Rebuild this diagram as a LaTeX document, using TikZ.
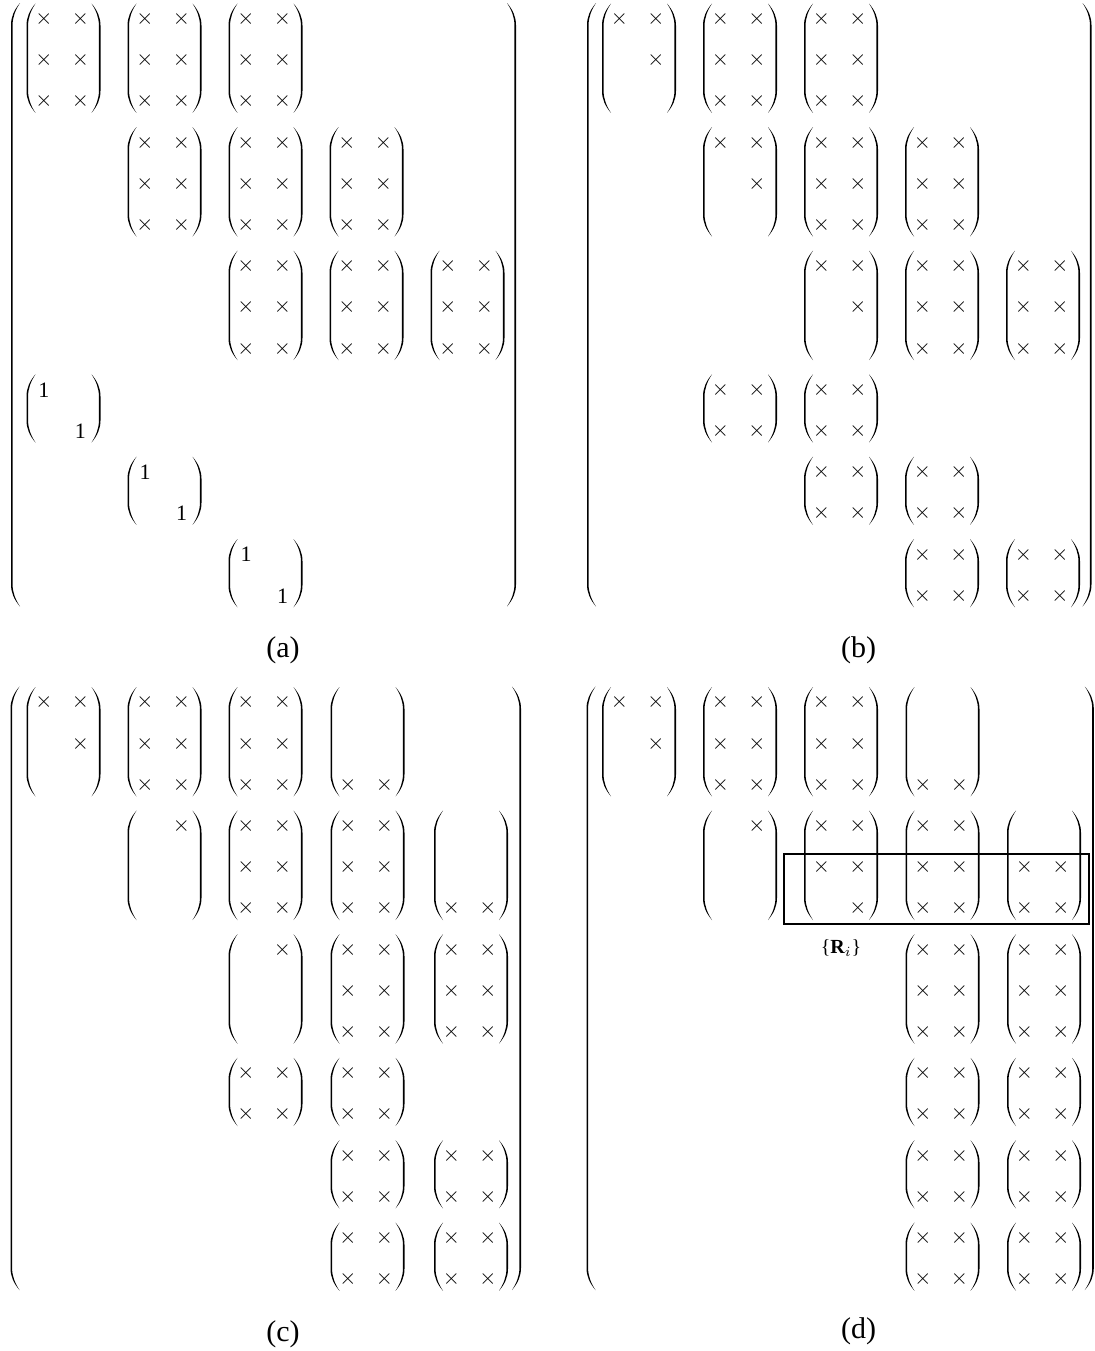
\documentclass[tikz,border=0pt]{standalone}
\usepackage{fontspec}
\setmainfont{Liberation Serif}

\def\colset{{26.5,127.5,228.5,329.5,430.5}}

\newcommand\openpar[3]{%
  \fill ({#1+9},#2) .. controls ({#1+3},{#2+7}) and (#1,{#2+14}) .. (#1,{#2+22})
    -- (#1,{#3-22}) .. controls (#1,{#3-14}) and ({#1+3},{#3-7}) .. ({#1+9},#3)
    .. controls ({#1+4.4},{#3-7}) and ({#1+1.6},{#3-14}) .. ({#1+1.6},{#3-22})
    -- ({#1+1.6},{#2+22}) .. controls ({#1+1.6},{#2+14}) and ({#1+4.4},{#2+7}) .. ({#1+9},#2) -- cycle;}
\newcommand\closepar[3]{%
  \fill ({#1-9},#2) .. controls ({#1-3},{#2+7}) and (#1,{#2+14}) .. (#1,{#2+22})
    -- (#1,{#3-22}) .. controls (#1,{#3-14}) and ({#1-3},{#3-7}) .. ({#1-9},#3)
    .. controls ({#1-4.4},{#3-7}) and ({#1-1.6},{#3-14}) .. ({#1-1.6},{#3-22})
    -- ({#1-1.6},{#2+22}) .. controls ({#1-1.6},{#2+14}) and ({#1-4.4},{#2+7}) .. ({#1-9},#2) -- cycle;}

\newcommand\blk[3]{%
  \pgfmathtruncatemacro\ci{#1-1}%
  \pgfmathsetmacro\blkl{\colset[\ci]}%
  \pgfmathsetmacro\blkr{\blkl+74}%
  \pgfmathsetmacro\blkt{3.5+41.2*#2}%
  \pgfmathsetmacro\blkb{30.5+41.2*#3}%
  \openpar{\blkl}{\blkt}{\blkb}\closepar{\blkr}{\blkt}{\blkb}}
\newcommand\ent[4]{%
  \pgfmathtruncatemacro\ci{#1-1}%
  \pgfmathsetmacro\entx{\colset[\ci]}%
  \pgfmathsetmacro\entx{\entx+17.5+36.5*#2}%
  \pgfmathsetmacro\enty{19+41.2*#3}%
  \node[entry] (\pn#1#2-#3) at (\entx,\enty) {#4};}
\newcommand\fullblk[3]{\blk{#1}{#2}{#3}%
  \foreach \rowi in {#2,...,#3}{\foreach \subc in {0,1}{\ent{#1}{\subc}{\rowi}{$\times$}}}}
\newcommand\triblk[2]{\pgfmathtruncatemacro\kn{#2+1}\pgfmathtruncatemacro\kk{#2+2}%
  \blk{#1}{#2}{\kk}\ent{#1}{0}{#2}{$\times$}\ent{#1}{1}{#2}{$\times$}\ent{#1}{1}{\kn}{$\times$}}
\newcommand\cornerblk[2]{\pgfmathtruncatemacro\kk{#2+2}%
  \blk{#1}{#2}{\kk}\ent{#1}{1}{#2}{$\times$}}
\newcommand\lastblk[2]{\pgfmathtruncatemacro\kk{#2+2}%
  \blk{#1}{#2}{\kk}\ent{#1}{0}{\kk}{$\times$}\ent{#1}{1}{\kk}{$\times$}}
\newcommand\idblk[2]{\pgfmathtruncatemacro\kn{#2+1}%
  \blk{#1}{#2}{\kn}\ent{#1}{0}{#2}{1}\ent{#1}{1}{\kn}{1}}

\begin{document}
\begin{tikzpicture}[x=0.5pt, y=-0.5pt,
    entry/.style={inner sep=0pt, font=\fontsize{11}{13}\selectfont},
    tag/.style={inner sep=0pt, font=\fontsize{15}{18}\selectfont},
    boxline/.style={draw, line width=1pt}
]
\fill[white] (0,0) rectangle (1095,1351);
\useasboundingbox (0,0) rectangle (1095,1351);

\begin{scope}
\def\pn{a}
\openpar{11}{3}{606.5}\closepar{516}{3}{606.5}
\foreach \c in {1,2,3}{\fullblk{\c}{0}{2}}
\foreach \c in {2,3,4}{\fullblk{\c}{3}{5}}
\foreach \c in {3,4,5}{\fullblk{\c}{6}{8}}
\foreach \c/\k in {1/9,2/11,3/13}{\idblk{\c}{\k}}
\node[tag] (tag-a) at (283,650.5) {(a)};
\end{scope}

\begin{scope}[shift={(575.5,0)}]
\def\pn{b}
\openpar{11.5}{3}{606.5}\closepar{516}{3}{606.5}
\triblk{1}{0}\fullblk{2}{0}{2}\fullblk{3}{0}{2}
\triblk{2}{3}\fullblk{3}{3}{5}\fullblk{4}{3}{5}
\triblk{3}{6}\fullblk{4}{6}{8}\fullblk{5}{6}{8}
\foreach \c/\k in {2/9,3/9,3/11,4/11,4/13,5/13}{\pgfmathtruncatemacro\kl{\k+1}\fullblk{\c}{\k}{\kl}}
\node[tag] (tag-b) at (283,650.5) {(b)};
\end{scope}

\begin{scope}[shift={(0,683.5)}]
\def\pn{c}\def\colset{{26.5,127.5,228.5,330.5,434}}
\openpar{10.5}{3}{606.5}\closepar{521}{3}{606.5}
\triblk{1}{0}\fullblk{2}{0}{2}\fullblk{3}{0}{2}\lastblk{4}{0}
\cornerblk{2}{3}\fullblk{3}{3}{5}\fullblk{4}{3}{5}\lastblk{5}{3}
\cornerblk{3}{6}\fullblk{4}{6}{8}\fullblk{5}{6}{8}
\foreach \c/\k in {3/9,4/9,4/11,5/11,4/13,5/13}{\pgfmathtruncatemacro\kl{\k+1}\fullblk{\c}{\k}{\kl}}
\node[tag] (tag-c) at (283,650.5) {(c)};
\end{scope}

\begin{scope}[shift={(575.5,683.5)}]
\def\pn{d}\def\colset{{26.5,127.5,228.5,330,431.5}}
\openpar{11}{3}{606.5}\closepar{518.3}{3}{606.5}
\triblk{1}{0}\fullblk{2}{0}{2}\fullblk{3}{0}{2}\lastblk{4}{0}
\cornerblk{2}{3}
\blk{3}{3}{5}\foreach \rowi in {3,4}{\foreach \subc in {0,1}{\ent{3}{\subc}{\rowi}{$\times$}}}\ent{3}{1}{5}{$\times$}
\fullblk{4}{3}{5}
\blk{5}{3}{5}\foreach \rowi in {4,5}{\foreach \subc in {0,1}{\ent{5}{\subc}{\rowi}{$\times$}}}
\fullblk{4}{6}{8}\fullblk{5}{6}{8}
\foreach \c/\k in {4/9,5/9,4/11,5/11,4/13,5/13}{\pgfmathtruncatemacro\kl{\k+1}\fullblk{\c}{\k}{\kl}}
\draw[boxline] (208.5,170.5) rectangle (513.5,240.5);
\node[inner sep=0pt, font=\fontsize{10}{12}\selectfont] (ri) at (265.5,264.5) {\{\textbf{R}$_i$\}};
\node[tag] (tag-d) at (283,647.5) {(d)};
\end{scope}
\end{tikzpicture}
\end{document}
